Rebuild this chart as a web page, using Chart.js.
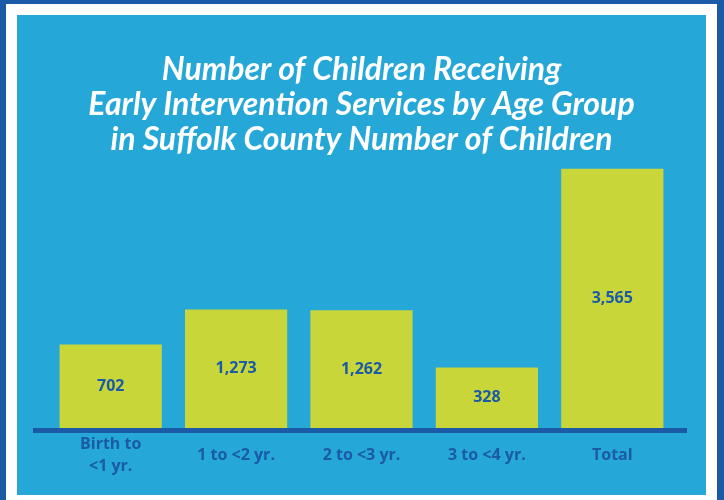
<!DOCTYPE html>
<html>
<head>
<meta charset="utf-8">
<script src="https://cdn.jsdelivr.net/npm/chart.js@4"></script>
<style>
  html, body { margin: 0; padding: 0; }
  body {
    width: 724px; height: 500px; box-sizing: border-box;
    background: #fff;
    border-left: 6px solid #1b5aa6;
    border-top: 4px solid #1b5aa6;
    border-right: 7px solid #1b5aa6;
    position: relative;
  }
  #panel {
    position: absolute; left: 11px; top: 11px;
    width: 689px; height: 480px; background: #25a7d8;
    overflow: hidden;
  }
</style>
</head>
<body>
<div id="panel"><canvas id="chart" width="689" height="481"></canvas></div>
<script>
const categories = [["Birth to", "<1 yr."], "1 to <2 yr.", "2 to <3 yr.", "3 to <4 yr.", "Total"];
const children = [702, 1273, 1262, 328, 3565];
const titleLines = [
  "Number of Children Receiving",
  "Early Intervention Services by Age Group",
  "in Suffolk County Number of Children"
];

// the original graphic is not drawn to scale, bars start below zero
const barBase = -656;

const DARK = "#1b5aa6";

// value label in the middle of each bar + the thick baseline
const barDecor = {
  id: "barDecor",
  afterDatasetsDraw(chart) {
    const ctx = chart.ctx;
    const area = chart.chartArea;
    ctx.save();
    ctx.fillStyle = DARK;
    ctx.fillRect(area.left - 15, area.bottom, area.right - area.left + 27, 5);
    ctx.font = "bold 16px 'Open Sans'";
    ctx.textAlign = "center";
    ctx.textBaseline = "middle";
    chart.getDatasetMeta(0).data.forEach((bar, i) => {
      const mid = (bar.y + bar.base) / 2;
      ctx.fillText(children[i].toLocaleString("en-US"), bar.x, mid);
    });
    ctx.restore();
  }
};

new Chart(document.getElementById("chart"), {
  type: "bar",
  data: {
    labels: categories,
    datasets: [{
      data: children,
      base: barBase,
      backgroundColor: "#c8d63a",
      categoryPercentage: 1,
      barPercentage: 0.815
    }]
  },
  options: {
    responsive: false,
    animation: false,
    layout: { padding: { left: 31, right: 31, top: 0, bottom: 0 } },
    plugins: {
      legend: { display: false },
      tooltip: { enabled: false },
      title: {
        display: true,
        text: titleLines,
        color: "#ffffff",
        font: { family: "Lato", size: 32, weight: "bold", style: "italic", lineHeight: 1.094 },
        padding: { top: 37, bottom: 3 }
      }
    },
    scales: {
      x: {
        grid: { display: false },
        border: { display: false },
        ticks: {
          color: DARK,
          padding: 8,
          crossAlign: "center",
          font: { family: "Open Sans", size: 16, weight: "bold", lineHeight: 1.375 }
        }
      },
      y: {
        display: false,
        min: barBase,
        max: 3705
      }
    }
  },
  plugins: [barDecor]
});
</script>
</body>
</html>
